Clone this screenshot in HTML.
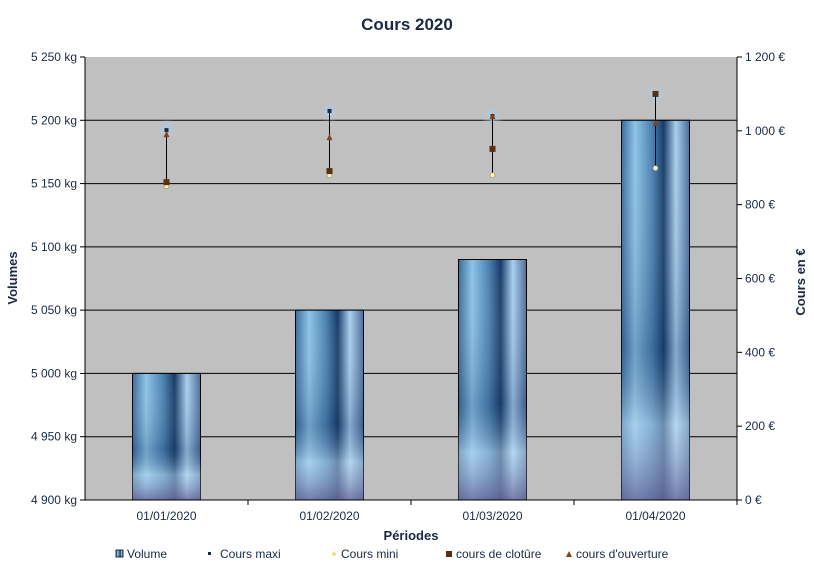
<!DOCTYPE html>
<html><head><meta charset="utf-8"><style>
body{margin:0;background:#fff;font-family:"Liberation Sans",Arial,sans-serif;}
svg text{font-family:"Liberation Sans",Arial,sans-serif;fill:#1a2a44;}
</style></head><body>
<svg id="c" width="814" height="572" xmlns="http://www.w3.org/2000/svg">
<defs>
<linearGradient id="gh" x1="0" x2="1" y1="0" y2="0">
<stop offset="0" stop-color="#3a6a9c"/><stop offset="0.2" stop-color="#8cc4e6"/><stop offset="0.45" stop-color="#4a80b0"/><stop offset="0.62" stop-color="#163a68"/><stop offset="0.8" stop-color="#a8d0ee"/><stop offset="1" stop-color="#4a6a98"/>
</linearGradient>
<linearGradient id="gv" x1="0" x2="0" y1="0" y2="1">
<stop offset="0" stop-color="#fff" stop-opacity="0"/><stop offset="0.6" stop-color="#1a3a6a" stop-opacity="0.25"/><stop offset="0.8" stop-color="#c0e0f4" stop-opacity="0.5"/><stop offset="1" stop-color="#6a6a9a" stop-opacity="0.8"/>
</linearGradient>
<radialGradient id="glow"><stop offset="0" stop-color="#a8d0f4" stop-opacity="0.9"/><stop offset="1" stop-color="#c0c0c0" stop-opacity="0"/></radialGradient>
</defs>
<text x="407" y="30" text-anchor="middle" font-size="17" font-weight="bold">Cours 2020</text>
<rect x="85" y="57" width="652" height="443" fill="#c0c0c0"/>
<g id="grid"></g><g id="bars"></g><g id="stock"></g><g id="axes"></g>
<text transform="translate(17,278) rotate(-90)" text-anchor="middle" font-size="13" font-weight="bold">Volumes</text>
<text transform="translate(805,282) rotate(-90)" text-anchor="middle" font-size="13" font-weight="bold">Cours en €</text>
<text x="411" y="540" text-anchor="middle" font-size="13" font-weight="bold">Périodes</text>
<g font-size="12">
<g><rect x="116" y="550" width="7" height="7" fill="url(#gh)" stroke="#000" stroke-width="0.8"/><text x="127" y="558">Volume</text></g>
<g><rect x="208" y="552" width="3" height="3" fill="#1a2a44"/><text x="220" y="558">Cours maxi</text></g>
<g><circle cx="334" cy="554" r="2" fill="#f0e080"/><text x="341" y="558">Cours mini</text></g>
<g><rect x="446" y="551" width="6" height="6" fill="#5a3010"/><text x="456" y="558">cours de clotûre</text></g>
<g><path d="M566,557 L569,551 L572,557Z" fill="#8a4010"/><text x="576" y="558">cours d'ouverture</text></g>
</g>
</svg>
<script>
const categories=["01/01/2020","01/02/2020","01/03/2020","01/04/2020"];
const volumes=[5000,5050,5090,5200];
const coursMaxi=[1002,1054,1040,1100];
const coursMini=[850,880,880,899];
const coursCloture=[861,891,951,1100];
const coursOuverture=[991,983,1040,1021];
const yTicks=[4900,4950,5000,5050,5100,5150,5200,5250];
const y2Ticks=[0,200,400,600,800,1000,1200];
const yTickLabels=["4 900 kg","4 950 kg","5 000 kg","5 050 kg","5 100 kg","5 150 kg","5 200 kg","5 250 kg"];
const y2TickLabels=["0 €","200 €","400 €","600 €","800 €","1 000 €","1 200 €"];
const NS="http://www.w3.org/2000/svg";
const L=85,R=737,T=57,B=500;
const y=v=>B-(v-4900)/350*(B-T);
const y2=v=>B-v/1200*(B-T);
const bw=(R-L)/categories.length;
const xc=i=>L+bw*(i+0.5);
function mk(p,tag,at){const e=document.createElementNS(NS,tag);for(const k in at)e.setAttribute(k,at[k]);document.getElementById(p).appendChild(e);return e;}
yTicks.forEach((t,i)=>{
 if(i>0&&i<yTicks.length-1){const g=mk('grid','line',{x1:L,x2:R,y1:y(t),y2:y(t),stroke:'#000','stroke-width':1});
 
 }
 mk('axes','line',{x1:L-5,x2:L,y1:y(t),y2:y(t),stroke:'#000'});
 const tx=mk('axes','text',{x:L-8,y:y(t)+4,'text-anchor':'end','font-size':12});tx.textContent=yTickLabels[i];
 
 
});
y2Ticks.forEach((t,i)=>{
 mk('axes','line',{x1:R,x2:R+5,y1:y2(t),y2:y2(t),stroke:'#000'});
 const tx=mk('axes','text',{x:R+8,y:y2(t)+4,'font-size':12});tx.textContent=y2TickLabels[i];
 
 
});
mk('axes','line',{x1:L,x2:L,y1:T,y2:B,stroke:'#000'});
mk('axes','line',{x1:R,x2:R,y1:T,y2:B,stroke:'#000'});
mk('axes','line',{x1:L,x2:R,y1:B,y2:B,stroke:'#000'});
categories.forEach((c,i)=>{
 mk('axes','line',{x1:L+bw*(i+1),x2:L+bw*(i+1),y1:B,y2:B+5,stroke:'#000'});
 const tx=mk('axes','text',{x:xc(i),y:B+20,'text-anchor':'middle','font-size':12});tx.textContent=c;
 
 
 const w=68,x=xc(i)-w/2,yt=y(volumes[i]);
 const b=mk('bars','rect',{x:x,y:yt,width:w,height:B-yt,fill:'url(#gh)',stroke:'#000','stroke-width':1});
 
 
 mk('bars','rect',{x:x,y:yt,width:w,height:B-yt,fill:'url(#gv)'});
 const cx=xc(i);
 const top=Math.max(coursMaxi[i],coursCloture[i],coursOuverture[i]);
 mk('stock','circle',{cx:cx,cy:y2(top),r:12,fill:'url(#glow)'});
 const hl=mk('stock','line',{x1:cx,x2:cx,y1:y2(coursMaxi[i]),y2:y2(coursMini[i]),stroke:'#000','stroke-width':1});
 
 
 const mx=mk('stock','rect',{x:cx-2,y:y2(coursMaxi[i])-2,width:4,height:4,fill:'#1a2a44'});
 
 
 const mn=mk('stock','circle',{cx:cx,cy:y2(coursMini[i]),r:2.5,fill:'#f8f0c0',stroke:'#a09050','stroke-width':0.6});
 
 
 const cl=mk('stock','rect',{x:cx-3,y:y2(coursCloture[i])-3,width:6,height:6,fill:'#5a3010'});
 
 
 const yo=y2(coursOuverture[i]);
 const op=mk('stock','path',{d:`M${cx-3},${yo+3} L${cx},${yo-3} L${cx+3},${yo+3}Z`,fill:'#8a4010'});
 
 
});
</script>
</body></html>
